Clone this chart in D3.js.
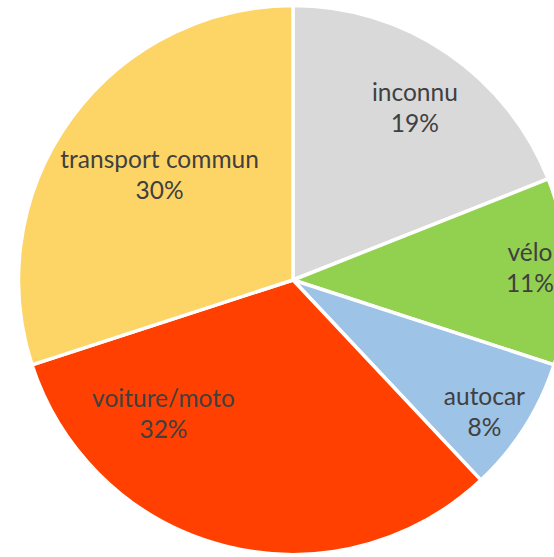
<!DOCTYPE html>
<html>
<head>
<meta charset="utf-8">
<script src="https://cdn.jsdelivr.net/npm/d3@7"></script>
<style>
  html, body { margin: 0; padding: 0; background: #fff; }
  svg { display: block; }
</style>
</head>
<body>
<svg id="chart" width="554" height="557"></svg>
<script>
// ---- data ----
const categories = ["inconnu", "vélo", "autocar", "voiture/moto", "transport commun"];
const values = [19, 11, 8, 32, 30];
const colors = ["#d9d9d9", "#92d050", "#9dc3e6", "#ff4000", "#fdd567"];

// ---- layout ----
const W = 554, H = 557;
const cx = 293, cy = 280, R = 274.5;
// label placement tweaks (angle shift in degrees, radius fraction)
const labelLayout = [
  { dA: 2.5, rf: 0.747 },
  { dA: 1.0, rf: 0.868 },
  { dA: 3.9, rf: 0.870 },
  { dA: 27.9, rf: 0.705 },
  { dA: 0.0, rf: 0.604 }
];

const svg = d3.select("#chart");
const g = svg.append("g").attr("transform", `translate(${cx},${cy})`);

const data = categories.map((c, i) => ({ name: c, value: values[i], color: colors[i], i }));
const pie = d3.pie().value(d => d.value).sort(null);
const arcs = pie(data);
const arc = d3.arc().innerRadius(0).outerRadius(R);

g.selectAll("path.slice")
  .data(arcs)
  .join("path")
  .attr("class", "slice")
  .attr("d", arc)
  .attr("fill", d => d.data.color)
  .attr("stroke", "#fff")
  .attr("stroke-width", 3.5)
  .attr("stroke-linejoin", "round");

const total = d3.sum(values);
const fmt = v => Math.round(v / total * 100) + "%";

const labels = g.selectAll("g.label")
  .data(arcs)
  .join("g")
  .attr("class", "label")
  .attr("transform", d => {
    const L = labelLayout[d.data.i];
    const a = (d.startAngle + d.endAngle) / 2 + L.dA * Math.PI / 180;
    const r = L.rf * 273;
    return `translate(${r * Math.sin(a)},${-r * Math.cos(a)})`;
  });

labels.append("text")
  .attr("text-anchor", "middle")
  .attr("y", -15.5)
  .attr("font-family", "Lato, 'Open Sans', sans-serif")
  .attr("font-size", 24.5)
  .attr("fill", "#404040")
  .text(d => d.data.name);

labels.append("text")
  .attr("text-anchor", "middle")
  .attr("y", 15.5)
  .attr("font-family", "Lato, 'Open Sans', sans-serif")
  .attr("font-size", 24.5)
  .attr("fill", "#404040")
  .text(d => fmt(d.data.value));
</script>
</body>
</html>
